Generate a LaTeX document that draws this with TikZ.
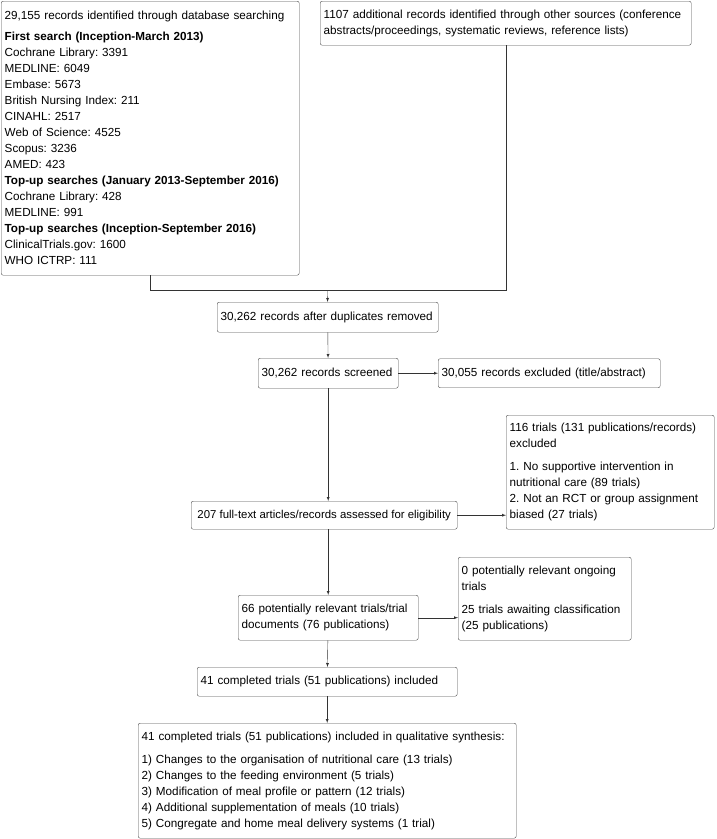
\documentclass[tikz,border=0pt]{standalone}
\usepackage{fontspec}
\setmainfont{Liberation Sans}
\frenchspacing
\usetikzlibrary{arrows,positioning}
\tikzset{box/.style = {draw=black!70, rounded corners=2pt, anchor=north west, align=left,
                       inner xsep=3.5pt, inner ysep=2pt, font=\fontsize{11.7}{16}\selectfont,
                       execute at begin node={\hyphenpenalty=10000\exhyphenpenalty=10000}},
         line/.style = {draw=black!80},
         arrow/.style = {line, -latex},
}

\begin{document}
\begin{tikzpicture}[x=1pt, y=-1pt]
  \useasboundingbox (0,0) rectangle (716,839);

  \node[box, minimum width=298pt, minimum height=274pt, text width=291pt] at (1,1) (db)
    {29,155 records identified through database searching\\[5pt]
     \textbf{First search (Inception-March 2013)}\\
     Cochrane Library: 3391\\
     MEDLINE: 6049\\
     Embase: 5673\\
     British Nursing Index: 211\\
     CINAHL: 2517\\
     Web of Science: 4525\\
     Scopus: 3236\\
     AMED: 423\\
     \textbf{Top-up searches (January 2013-September 2016)}\\
     Cochrane Library: 428\\
     MEDLINE: 991\\
     \textbf{Top-up searches (Inception-September 2016)}\\
     ClinicalTrials.gov: 1600\\
     WHO ICTRP: 111};
  \node[box, minimum width=371pt, minimum height=44pt, text width=364pt] at (320,1) (other)
    {1107 additional records identified through other sources (conference\\
     abstracts/proceedings, systematic reviews, reference lists)};
  \node[box, minimum width=221pt, minimum height=30pt, text width=214pt] at (217,302) (dup)
    {30,262 records after duplicates removed};
  \node[box, minimum width=140pt, minimum height=30pt, text width=133pt] at (258,358) (screen)
    {30,262 records screened};
  \node[box, minimum width=222pt, minimum height=29pt, text width=215pt] at (438,358.5) (excl)
    {30,055 records excluded (title/abstract)};
  \node[box, minimum width=208pt, minimum height=114pt, text width=201pt] at (506,415) (ftexcl)
    {116 trials (131 publications/records)\\
     excluded\\[7pt]
     1. No supportive intervention in\\
     nutritional care (89 trials)\\
     2. Not an RCT or group assignment\\
     biased (27 trials)};
  \node[box, minimum width=266pt, minimum height=28pt, inner xsep=2pt,
        font=\fontsize{11.4}{16}\selectfont] at (191,501) (fulltext)
    {207 full-text articles/records assessed for eligibility};
  \node[box, minimum width=173pt, minimum height=83pt, text width=166pt] at (458,557) (ongoing)
    {0 potentially relevant ongoing\\
     trials\\[7pt]
     25 trials awaiting classification\\
     (25 publications)};
  \node[box, minimum width=180pt, minimum height=45pt, text width=173pt] at (238,595) (relevant)
    {66 potentially relevant trials/trial\\
     documents (76 publications)};
  \node[box, minimum width=260pt, minimum height=29pt, text width=253pt] at (197,667) (incl)
    {41 completed trials (51 publications) included};
  \node[box, minimum width=378pt, minimum height=115pt, text width=371pt] at (138,723) (synth)
    {41 completed trials (51 publications) included in qualitative synthesis:\\[7pt]
     1) Changes to the organisation of nutritional care (13 trials)\\
     2) Changes to the feeding environment (5 trials)\\
     3) Modification of meal profile or pattern (12 trials)\\
     4) Additional supplementation of meals (10 trials)\\
     5) Congregate and home meal delivery systems (1 trial)};

  \coordinate (join) at (327.5,290);

  \draw[line] (db.south) |- (other.south |- join) -- (other.south);
  \draw[arrow] (join) -- (dup);
  \draw[arrow] (dup) -- (screen);
  \draw[arrow] (screen) -- (excl);
  \draw[arrow] (screen.south) -- (screen.south |- fulltext.north);
  \draw[arrow] (fulltext.east) -- (fulltext.east -| ftexcl.west);
  \draw[arrow] (fulltext.south -| relevant.north) -- (relevant.north);
  \draw[arrow] (relevant.east) -- (relevant.east -| ongoing.west);
  \draw[arrow] (relevant) -- (incl);
  \draw[arrow] (incl) -- (synth);

\end{tikzpicture}
\end{document}
